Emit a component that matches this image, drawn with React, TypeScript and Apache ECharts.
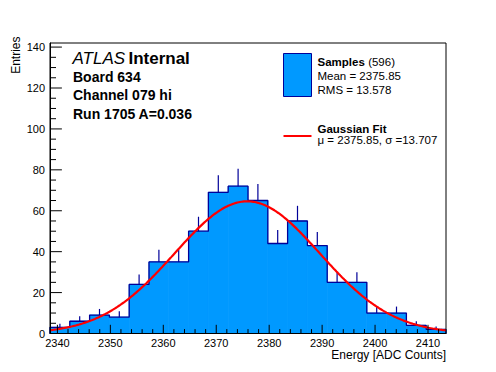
import React, { useEffect, useRef } from 'react';
import * as echarts from 'echarts';

// ---- data ----
const X_MIN = 2338.6;
const BIN_WIDTH = 3.74;
const BIN_COUNTS = [3, 6, 9, 8, 24, 35, 35, 50, 69, 72, 65, 44, 55, 43, 25, 25, 10, 10, 4, 2];
const X_MAX = X_MIN + BIN_WIDTH * BIN_COUNTS.length;
const Y_MIN = 0;
const Y_MAX = 142;
const X_MAJOR_TICKS = [2340, 2350, 2360, 2370, 2380, 2390, 2400, 2410];
const Y_MAJOR_TICKS = [0, 20, 40, 60, 80, 100, 120, 140];
const X_MINOR_STEP = 2;
const Y_MINOR_STEP = 5;

const ENTRIES = 596;
const MEAN = '2375.85';
const RMS = '13.578';
const FIT_MU = 2375.85;
const FIT_SIGMA = 13.707;
const FIT_AMP = 64.6;

const TITLE_LINES = ['Board 634', 'Channel 079 hi', 'Run 1705 A=0.036'];
const X_TITLE = 'Energy [ADC Counts]';
const Y_TITLE = 'Entries';

// ---- styles ----
const FONT = '"Liberation Sans", Arial, Helvetica, sans-serif';
const FILL = '#0099ff';
const EDGE = '#000099';
const FIT = '#ff0000';

export default function App() {
  const ref = useRef<HTMLDivElement>(null);

  useEffect(() => {
    if (!ref.current) return;
    const chart = echarts.init(ref.current, undefined, { renderer: 'svg' });

    const binData = BIN_COUNTS.map((c, i) => [X_MIN + i * BIN_WIDTH, X_MIN + (i + 1) * BIN_WIDTH, c]);
    const outline: number[][] = [[X_MIN, 0]];
    BIN_COUNTS.forEach((c, i) => outline.push([X_MIN + i * BIN_WIDTH, c]));
    outline.push([X_MAX, BIN_COUNTS[BIN_COUNTS.length - 1]]);
    outline.push([X_MAX, 0]);
    const errData = BIN_COUNTS.map((c, i) => [X_MIN + (i + 0.5) * BIN_WIDTH, c, c + Math.sqrt(c)]);

    const fitData: number[][] = [];
    const nPts = 300;
    for (let k = 0; k <= nPts; k++) {
      const x = X_MIN + ((X_MAX - X_MIN) * k) / nPts;
      const z = (x - FIT_MU) / FIT_SIGMA;
      fitData.push([x, FIT_AMP * Math.exp(-0.5 * z * z)]);
    }

    // ticks: [axis(0=x,1=y), value, length]
    const tickData: number[][] = [];
    for (let v = Math.ceil(X_MIN / X_MINOR_STEP) * X_MINOR_STEP; v <= X_MAX; v += X_MINOR_STEP) {
      const major = X_MAJOR_TICKS.indexOf(v) >= 0;
      tickData.push([0, v, major ? 8.7 : 4.4]);
    }
    for (let v = 0; v <= Y_MAX; v += Y_MINOR_STEP) {
      const major = Y_MAJOR_TICKS.indexOf(v) >= 0;
      tickData.push([1, v, major ? 11.9 : 6]);
    }

    const baseText = { fontFamily: FONT, fill: '#000' };

    chart.setOption({
      animation: false,
      backgroundColor: '#fff',
      grid: {
        left: 50,
        top: 43,
        width: 396,
        height: 290.5,
        show: true,
        borderColor: '#000',
        borderWidth: 1,
        backgroundColor: 'transparent',
        z: 10,
      },
      xAxis: {
        type: 'value',
        min: X_MIN,
        max: X_MAX,
        splitNumber: 7,
        z: 10,
        axisLine: { show: true, lineStyle: { color: '#000', width: 1 } },
        axisTick: { show: false },
        splitLine: { show: false },
        axisLabel: {
          show: true,
          showMinLabel: false,
          showMaxLabel: false,
          color: '#000',
          fontFamily: FONT,
          fontSize: 11,
          margin: 4,
          formatter: (v: number) => (X_MAJOR_TICKS.indexOf(Math.round(v)) >= 0 && Math.abs(v - Math.round(v)) < 1e-6 ? String(Math.round(v)) : ''),
        },
      },
      yAxis: {
        type: 'value',
        min: Y_MIN,
        max: Y_MAX,
        splitNumber: 7,
        z: 10,
        axisLine: { show: true, lineStyle: { color: '#000', width: 1 } },
        axisTick: { show: false },
        splitLine: { show: false },
        axisLabel: {
          show: true,
          showMaxLabel: false,
          color: '#000',
          fontFamily: FONT,
          fontSize: 11,
          margin: 5,
          formatter: (v: number) => (Y_MAJOR_TICKS.indexOf(v) >= 0 ? String(v) : ''),
        },
      },
      series: [
        {
          type: 'custom',
          name: 'fill',
          z: 1,
          data: binData,
          encode: { x: [0, 1], y: 2 },
          renderItem: (params: any, api: any) => {
            const p0 = api.coord([api.value(0), api.value(2)]);
            const p1 = api.coord([api.value(1), 0]);
            return {
              type: 'rect',
              shape: { x: p0[0], y: p0[1], width: p1[0] - p0[0], height: p1[1] - p0[1] },
              style: { fill: FILL, stroke: FILL, lineWidth: 0.8 },
            };
          },
        },
        {
          type: 'custom',
          name: 'errors',
          z: 3,
          data: errData,
          encode: { x: 0, y: [1, 2] },
          renderItem: (params: any, api: any) => {
            const p0 = api.coord([api.value(0), api.value(1)]);
            const p1 = api.coord([api.value(0), api.value(2)]);
            return {
              type: 'line',
              shape: { x1: p0[0], y1: p0[1], x2: p1[0], y2: p1[1] },
              style: { stroke: EDGE, lineWidth: 1.2 },
            };
          },
        },
        {
          type: 'line',
          name: 'outline',
          z: 2,
          step: 'end',
          data: outline,
          symbol: 'none',
          lineStyle: { color: EDGE, width: 1.3 },
        },
        {
          type: 'line',
          name: 'fit',
          z: 4,
          data: fitData,
          symbol: 'none',
          smooth: false,
          lineStyle: { color: FIT, width: 2.2 },
        },
        {
          type: 'custom',
          name: 'ticks',
          z: 12,
          clip: false,
          data: tickData,
          renderItem: (params: any, api: any) => {
            const axis = api.value(0);
            const v = api.value(1);
            const len = api.value(2);
            if (axis === 0) {
              const p = api.coord([v, Y_MIN]);
              return {
                type: 'line',
                shape: { x1: p[0], y1: p[1], x2: p[0], y2: p[1] - len },
                style: { stroke: '#000', lineWidth: 1 },
              };
            }
            const p = api.coord([X_MIN, v]);
            return {
              type: 'line',
              shape: { x1: p[0], y1: p[1], x2: p[0] + len, y2: p[1] },
              style: { stroke: '#000', lineWidth: 1 },
            };
          },
        },
      ],
      graphic: [
        {
          type: 'text',
          x: 72.5,
          y: 58,
          style: {
            text: '{a|ATLAS} {b|Internal}',
            verticalAlign: 'middle',
            rich: {
              a: { fontFamily: FONT, fontSize: 17, fontStyle: 'italic', fill: '#000' },
              b: { fontFamily: FONT, fontSize: 17, fontWeight: 'bold', fill: '#000' },
            },
          },
        },
        ...TITLE_LINES.map((t, i) => ({
          type: 'text',
          x: 73,
          y: 76.5 + i * 18.8,
          style: { ...baseText, text: t, fontSize: 14, fontWeight: 'bold', verticalAlign: 'middle' },
        })),
        {
          type: 'rect',
          shape: { x: 283.5, y: 53.5, width: 28, height: 43 },
          style: { fill: FILL, stroke: EDGE, lineWidth: 1 },
        },
        {
          type: 'text',
          x: 317.5,
          y: 62.3,
          style: {
            text: '{b|Samples} {n|(' + ENTRIES + ')}',
            verticalAlign: 'middle',
            rich: {
              b: { fontFamily: FONT, fontSize: 11.5, fontWeight: 'bold', fill: '#000' },
              n: { fontFamily: FONT, fontSize: 11.5, fill: '#000' },
            },
          },
        },
        {
          type: 'text',
          x: 317.5,
          y: 76.3,
          style: { ...baseText, text: 'Mean = ' + MEAN, fontSize: 11.5, verticalAlign: 'middle' },
        },
        {
          type: 'text',
          x: 317.5,
          y: 89.6,
          style: { ...baseText, text: 'RMS = ' + RMS, fontSize: 11.5, verticalAlign: 'middle' },
        },
        {
          type: 'line',
          shape: { x1: 283.5, y1: 136, x2: 311.5, y2: 136 },
          style: { stroke: FIT, lineWidth: 2 },
        },
        {
          type: 'text',
          x: 317.5,
          y: 129,
          style: { ...baseText, text: 'Gaussian Fit', fontSize: 11.5, fontWeight: 'bold', verticalAlign: 'middle' },
        },
        {
          type: 'text',
          x: 317.5,
          y: 140.3,
          style: {
            ...baseText,
            text: 'μ = ' + FIT_MU.toFixed(2) + ', σ =' + FIT_SIGMA.toFixed(3),
            fontSize: 11.5,
            verticalAlign: 'middle',
          },
        },
        {
          type: 'text',
          x: 446,
          y: 354.5,
          style: { ...baseText, text: X_TITLE, fontSize: 12, align: 'right', verticalAlign: 'middle' },
        },
        {
          type: 'text',
          x: 21.5,
          y: 36.5,
          rotation: Math.PI / 2,
          style: { ...baseText, text: Y_TITLE, fontSize: 12, align: 'right', verticalAlign: 'bottom' },
        },
      ],
    });

    return () => chart.dispose();
  }, []);

  return (
    <div
      ref={ref}
      style={{ position: 'fixed', left: 0, top: 0, width: 496, height: 372, background: '#fff' }}
    />
  );
}
